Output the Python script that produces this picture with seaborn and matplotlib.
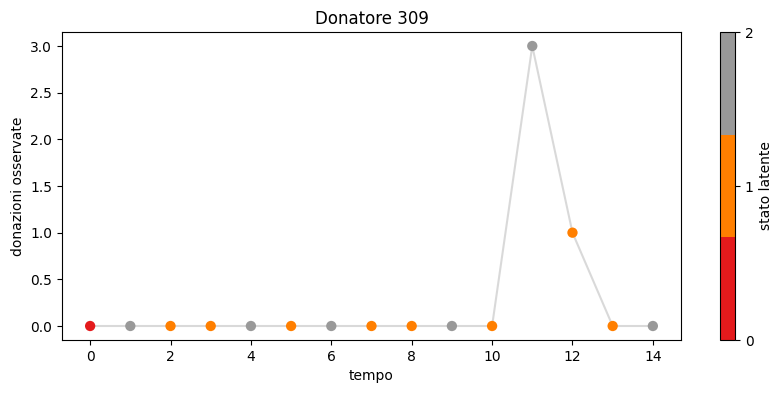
import numpy as np
import pandas as pd
import seaborn as sns
import matplotlib.pyplot as plt
import matplotlib as mpl

tempo = [0, 1, 2, 3, 4, 5, 6, 7, 8, 9, 10, 11, 12, 13, 14]
donazioni = [0, 0, 0, 0, 0, 0, 0, 0, 0, 0, 0, 3, 1, 0, 0]
stato = [0, 2, 1, 1, 2, 1, 2, 1, 1, 2, 1, 2, 1, 1, 2]

df = pd.DataFrame({'tempo': tempo, 'donazioni': donazioni, 'stato': stato})

cmap = plt.get_cmap('Set1', 3)
pal = {k: cmap(k) for k in range(3)}

fig = plt.figure(figsize=(7.83, 3.93), dpi=100)
ax = fig.add_axes([62/783, 53/393, 619/783, 308/393])
cax = fig.add_axes([720/783, 53/393, 15/783, 308/393])

sns.lineplot(x='tempo', y='donazioni', data=df, color='lightgray', alpha=0.85, ax=ax, zorder=1)
sns.scatterplot(x='tempo', y='donazioni', hue='stato', data=df, palette=pal,
                s=55, edgecolor='none', legend=False, ax=ax, zorder=2)

ax.set_xlabel('tempo')
ax.set_ylabel('donazioni osservate')
ax.set_title('Donatore 309')
ax.set_xticks(range(0, 15, 2))

sm = mpl.cm.ScalarMappable(cmap=cmap, norm=mpl.colors.Normalize(vmin=0, vmax=2))
cb = fig.colorbar(sm, cax=cax, ticks=[0, 1, 2])
cb.set_label('stato latente')

plt.savefig('out.png', dpi=100)
